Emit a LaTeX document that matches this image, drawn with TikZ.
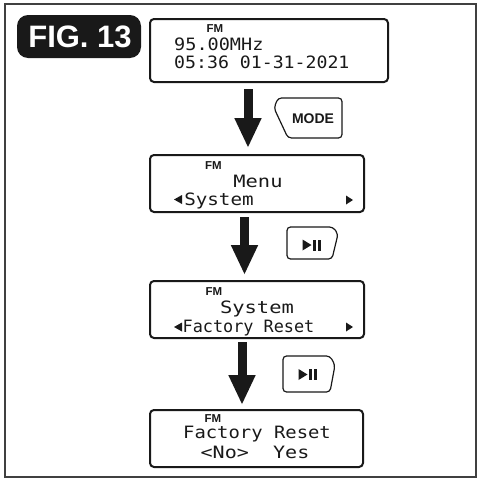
\documentclass[tikz,border=0pt]{standalone}
\usepackage{fontspec}
\usepackage{graphicx}
\setmainfont{Liberation Sans}
\newfontfamily\lcdfont{DejaVu Sans Mono}
\newfontfamily\labfont{Liberation Sans}
\usetikzlibrary{arrows.meta}
\begin{document}
\begin{tikzpicture}[x=1pt,y=-1pt,
  lcdbox/.style={draw=black!90, line width=2pt, rounded corners=4pt, inner sep=0pt},
  lcdtext/.style={inner sep=0pt, anchor=base, font=\lcdfont\fontsize{17}{17}\selectfont, text=black!90},
  fmtext/.style={inner sep=0pt, anchor=base, font=\labfont\bfseries\fontsize{11.5}{11.5}\selectfont, text=black!90},
  btnshape/.style={draw=black!90, line width=1.2pt, rounded corners=3.5pt, fill=white},
  bigarrow/.style={line width=9pt, draw=black!90, -{Triangle[width=25pt,length=30pt]}},
  tri/.style={fill=black!90}]
\useasboundingbox (0,0) rectangle (483,482);
% outer frame
\draw[line width=1.5pt, black!75] (5,4) rectangle (476,477);
% FIG badge
\node[fill=black!90, rounded corners=11pt, minimum width=124pt, minimum height=43pt, inner sep=0pt] (badge) at (79,36.5) {};
\node[inner sep=0pt, anchor=base, text=white, font=\labfont\bfseries\fontsize{31}{31}\selectfont] (figtxt) at (80,47) {FIG. 13};
% LCD boxes
\node[lcdbox, minimum width=238pt, minimum height=63pt] (b1) at (269,50.5) {};
\node[lcdbox, minimum width=214pt, minimum height=57pt] (b2) at (257,183.5) {};
\node[lcdbox, minimum width=214pt, minimum height=57pt] (b3) at (257,309.5) {};
\node[lcdbox, minimum width=213pt, minimum height=57pt] (b4) at (256.5,438.5) {};
% box 1 texts
\node[fmtext] (fm1) at (215,32) {FM};
\node[lcdtext, anchor=base west] (b1l1) at (174,50) {\scalebox{1.09}[1]{95.00MHz}};
\node[lcdtext, anchor=base west] (b1l2) at (174,68) {\scalebox{1.07}[1]{05:36 01-31-2021}};
% box 2 texts
\node[fmtext] (fm2) at (213.5,169) {FM};
\node[lcdtext] (b2l1) at (258,187) {\scalebox{1.2}[1]{Menu}};
\node[lcdtext] (b2l2) at (219,205) {\scalebox{1.13}[1]{System}};
\fill[tri] (174,199.5) -- (182,195) -- (182,204) -- cycle;
\fill[tri] (353,200) -- (346,195.5) -- (346,204.5) -- cycle;
% box 3 texts
\node[fmtext] (fm3) at (214,295.5) {FM};
\node[lcdtext] (b3l1) at (257,313) {\scalebox{1.2}[1]{System}};
\node[lcdtext] (b3l2) at (248.5,332) {\scalebox{0.99}[1]{Factory Reset}};
\fill[tri] (174,327) -- (182,322.5) -- (182,331.5) -- cycle;
\fill[tri] (353,327) -- (346,322.5) -- (346,331.5) -- cycle;
% box 4 texts
\node[fmtext] (fm4) at (213,422.5) {FM};
\node[lcdtext] (b4l1) at (257,438) {\scalebox{1.11}[1]{Factory Reset}};
\node[lcdtext] (b4l2) at (255,458) {\scalebox{1.18}[1]{<No>\ \ Yes}};
% arrows
\coordinate (a1s) at (248,89);  \coordinate (a1e) at (248,148);
\coordinate (a2s) at (244.5,217); \coordinate (a2e) at (244.5,275);
\coordinate (a3s) at (242,342); \coordinate (a3e) at (242,405);
\draw[bigarrow] (a1s) -- (a1e);
\draw[bigarrow] (a2s) -- (a2e);
\draw[bigarrow] (a3s) -- (a3e);
% MODE button
\draw[btnshape] (278,98) -- (342,98) -- (342,138) -- (288,138) -- (274,108) -- cycle;
\node[inner sep=0pt, anchor=base, text=black!90, font=\labfont\bfseries\fontsize{14}{14}\selectfont] (mode) at (313,123.5) {MODE};
% play/pause button 1
\draw[btnshape] (287,227) -- (333,227) -- (338,234) -- (332,259) -- (287,259) -- cycle;
\fill[tri] (302.5,239.5) -- (311.5,245) -- (302.5,250.5) -- cycle;
\fill[tri] (312.8,239.5) rectangle (316.2,250.5);
\fill[tri] (317.6,239.5) rectangle (321,250.5);
% play/pause button 2
\draw[btnshape] (283,356) -- (330,356) -- (335,365) -- (330,392) -- (283,392) -- cycle;
\fill[tri] (298.5,369) -- (307.5,374.5) -- (298.5,380) -- cycle;
\fill[tri] (308.8,369) rectangle (312.2,380);
\fill[tri] (313.6,369) rectangle (317,380);
\end{tikzpicture}
\end{document}
